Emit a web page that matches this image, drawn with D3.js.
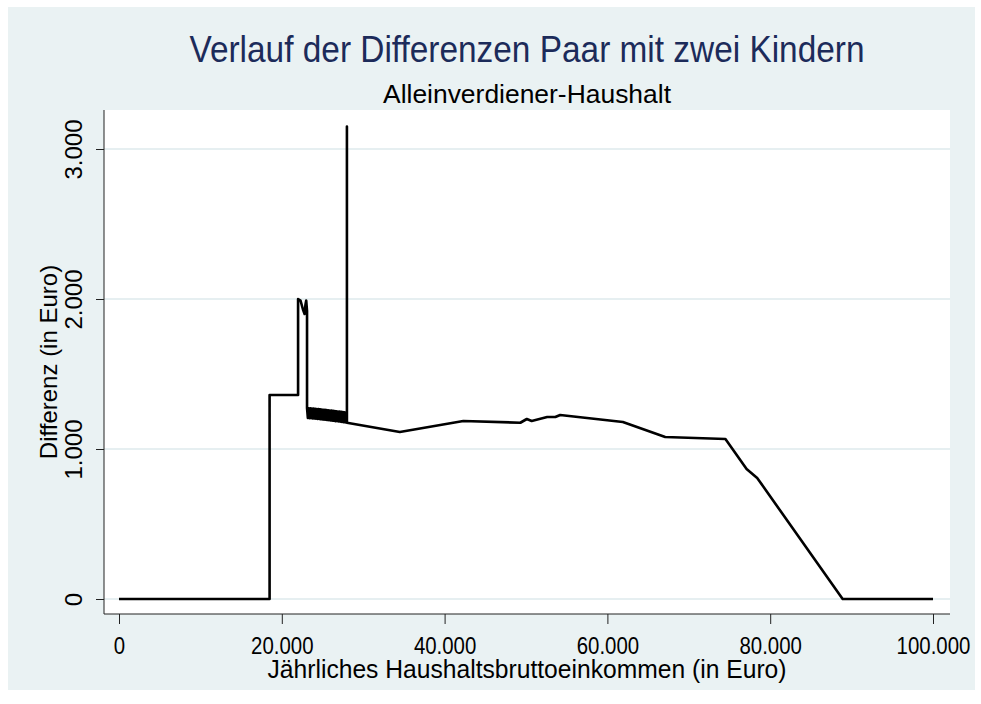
<!DOCTYPE html>
<html>
<head>
<meta charset="utf-8">
<script src="https://cdn.jsdelivr.net/npm/d3@7"></script>
<style>
  body { margin: 0; background: #fff; }
  text { font-family: "Liberation Sans", Arial, sans-serif; }
</style>
</head>
<body>
<script>
// values (the 23.100-28.000 stretch is a dense zigzag)
var incomeEuro = [0, 18500, 18500, 22000, 22000, 22300, 22600, 22800, 22900, 23000, 23100, 23100,
  23200, 23300, 23400, 23500, 23600, 23700, 23800, 23900, 24000, 24100, 24200, 24300, 24400, 24500,
  24600, 24700, 24800, 24900, 25000, 25100, 25200, 25300, 25400, 25500, 25600, 25700, 25800, 25900,
  26000, 26100, 26200, 26300, 26400, 26500, 26600, 26700, 26800, 26900, 27000, 27100, 27200, 27300,
  27400, 27500, 27600, 27700, 27800, 27900, 28000, 28000, 28000,
  34500, 42300, 49300, 50100, 50700, 52600, 53600, 54200, 61900, 67100, 74500, 77100, 78400, 88900, 100000];
var diffEuro = [0, 0, 1360, 1360, 2000, 1990, 1930, 1900, 1960, 1990, 1920, 1273,
  1207, 1272, 1206, 1271, 1205, 1270, 1204, 1269, 1203, 1268, 1202, 1267, 1201, 1266,
  1200, 1264, 1198, 1263, 1197, 1262, 1196, 1261, 1195, 1259, 1193, 1258, 1192, 1257,
  1190, 1256, 1189, 1254, 1188, 1253, 1186, 1252, 1185, 1250, 1184, 1249, 1182, 1248,
  1181, 1246, 1179, 1245, 1177, 1243, 1175, 3150, 1175,
  1113, 1187, 1175, 1200, 1187, 1213, 1213, 1227, 1180, 1080, 1067, 867, 807, 0, 0];

var xTicks = [0, 20000, 40000, 60000, 80000, 100000];
var yTicks = [0, 1000, 2000, 3000];

var titleText = "Verlauf der Differenzen Paar mit zwei Kindern";
var subtitleText = "Alleinverdiener-Haushalt";
var xTitle = "Jährliches Haushaltsbruttoeinkommen (in Euro)";
var yTitle = "Differenz (in Euro)";

var fmt = function(v) { return d3.format(",")(v).replace(/,/g, "."); };

var svg = d3.select("body").append("svg")
    .attr("width", 981)
    .attr("height", 704);

// graph region
svg.append("rect")
    .attr("x", 8).attr("y", 7)
    .attr("width", 967).attr("height", 683)
    .attr("fill", "#eaf2f3");

var plotL = 104, plotR = 950, plotT = 110, plotB = 614;

svg.append("rect")
    .attr("x", plotL).attr("y", plotT)
    .attr("width", plotR - plotL).attr("height", plotB - plotT)
    .attr("fill", "#fff");

var x = d3.scaleLinear().domain([0, 100000]).range([119, 933]);
var y = d3.scaleLinear().domain([0, 3000]).range([599, 149]);

// condense horizontal text a bit, like the reference
function squeeze(sel, k) {
  sel.each(function() {
    var len = this.getComputedTextLength();
    d3.select(this).attr("textLength", len * k).attr("lengthAdjust", "spacingAndGlyphs");
  });
}

// gridlines
svg.append("g").selectAll("line")
    .data(yTicks)
    .enter().append("line")
    .attr("x1", plotL).attr("x2", plotR)
    .attr("y1", function(d) { return y(d); })
    .attr("y2", function(d) { return y(d); })
    .attr("stroke", "#e6eff1")
    .attr("stroke-width", 2);

// axes
var yAxis = d3.axisLeft(y).tickValues(yTicks).tickSize(8).tickFormat(fmt);
var gy = svg.append("g").attr("transform", "translate(" + plotL + ",0)").call(yAxis);
gy.select(".domain").remove();
gy.selectAll(".tick line").attr("stroke", "#222");
gy.selectAll(".tick text")
    .attr("font-size", 24)
    .attr("fill", "#000")
    .attr("text-anchor", "middle")
    .attr("x", null).attr("dy", null)
    .attr("transform", "translate(-22,0) rotate(-90)");

var xAxis = d3.axisBottom(x).tickValues(xTicks).tickSize(10).tickFormat(fmt);
var gx = svg.append("g").attr("transform", "translate(0," + plotB + ")").call(xAxis);
gx.select(".domain").remove();
gx.selectAll(".tick line").attr("stroke", "#222");
gx.selectAll(".tick text")
    .attr("font-size", 24)
    .attr("fill", "#000")
    .attr("y", 40).attr("dy", null)
    .call(squeeze, 0.85);

svg.append("line")
    .attr("x1", plotL).attr("x2", plotL).attr("y1", plotT).attr("y2", plotB)
    .attr("stroke", "#222").attr("stroke-width", 1);
svg.append("line")
    .attr("x1", plotL).attr("x2", plotR).attr("y1", plotB).attr("y2", plotB)
    .attr("stroke", "#222").attr("stroke-width", 1);

// the line
var line = d3.line()
    .x(function(d) { return x(d[0]); })
    .y(function(d) { return y(d[1]); });

svg.append("path")
    .datum(d3.zip(incomeEuro, diffEuro))
    .attr("d", line)
    .attr("fill", "none")
    .attr("stroke", "#000")
    .attr("stroke-width", 2.6)
    .attr("stroke-linejoin", "round");

// titles
svg.append("text")
    .attr("x", 527).attr("y", 62)
    .attr("text-anchor", "middle")
    .attr("font-size", 36)
    .attr("fill", "#1c2b5a")
    .text(titleText)
    .attr("textLength", 675).attr("lengthAdjust", "spacingAndGlyphs");

svg.append("text")
    .attr("x", 527).attr("y", 103)
    .attr("text-anchor", "middle")
    .attr("font-size", 26)
    .attr("fill", "#000")
    .text(subtitleText)
    .attr("textLength", 288).attr("lengthAdjust", "spacingAndGlyphs");

svg.append("text")
    .attr("x", 527).attr("y", 678)
    .attr("text-anchor", "middle")
    .attr("font-size", 25)
    .attr("fill", "#000")
    .text(xTitle)
    .attr("textLength", 519).attr("lengthAdjust", "spacingAndGlyphs");

svg.append("text")
    .attr("transform", "translate(57,362) rotate(-90)")
    .attr("text-anchor", "middle")
    .attr("font-size", 24)
    .attr("fill", "#000")
    .text(yTitle);
</script>
</body>
</html>
